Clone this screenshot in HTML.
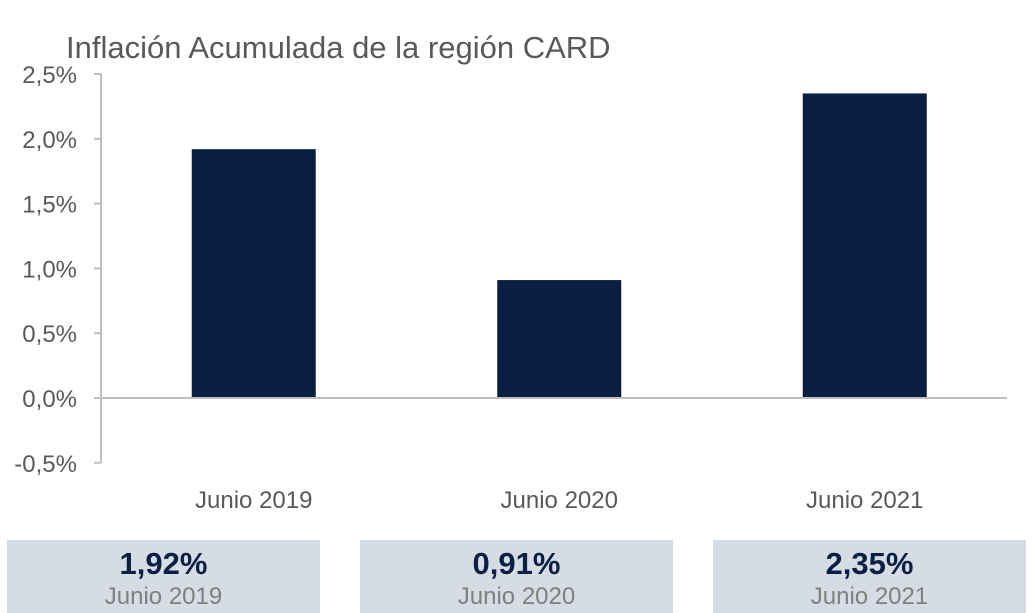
<!DOCTYPE html>
<html><head><meta charset="utf-8"><style>
body{margin:0;width:1032px;height:613px;background:#fff;overflow:hidden;font-family:"Liberation Sans",sans-serif;position:relative}
.box{position:absolute;top:540px;height:73px;width:313px;background:#d6dce4;text-align:center;overflow:hidden}
.v{font-weight:bold;font-size:31px;color:#0a1f44;margin-top:6px;line-height:36px}
.l{font-size:24px;color:#7f7f7f;line-height:30px}
</style></head><body>
<svg width="1032" height="540" style="position:absolute;left:0;top:0">
<text x="66" y="58" font-size="31" fill="#595959" font-family="Liberation Sans, sans-serif">Inflación Acumulada de la región CARD</text>
<g id="g"></g>
</svg>
<div class="box" style="left:7px"><div class="v">1,92%</div><div class="l">Junio 2019</div></div>
<div class="box" style="left:360px"><div class="v">0,91%</div><div class="l">Junio 2020</div></div>
<div class="box" style="left:713px"><div class="v">2,35%</div><div class="l">Junio 2021</div></div>
<script>
const categories=["Junio 2019","Junio 2020","Junio 2021"];
const values=[1.92,0.91,2.35];
const ticks=[-0.5,0,0.5,1,1.5,2,2.5];
const tickLabels=["-0,5%","0,0%","0,5%","1,0%","1,5%","2,0%","2,5%"];
const NS="http://www.w3.org/2000/svg",g=document.getElementById('g');
const y=v=>398-v*129.6;
const x0=101,bandW=305.5;
const xc=i=>x0+bandW*(i+0.5);
function mk(t,a){const e=document.createElementNS(NS,t);for(const k in a)e.setAttribute(k,a[k]);g.appendChild(e);return e;}
const ax=mk('line',{x1:x0,y1:y(2.5),x2:x0,y2:y(-0.5),stroke:'#bfbfbf','stroke-width':2});


ticks.forEach((t,i)=>{
const tk=mk('line',{x1:94,x2:x0,y1:y(t),y2:y(t),stroke:'#bfbfbf','stroke-width':2});


const tx=mk('text',{x:77,y:y(t)+9,'text-anchor':'end','font-size':24,fill:'#595959','font-family':'Liberation Sans, sans-serif'});
tx.textContent=tickLabels[i];


});
values.forEach((v,i)=>{
const r=mk('rect',{x:xc(i)-62,width:124,y:Math.min(y(v),y(0)),height:Math.abs(y(v)-y(0)),fill:'#081f42'});


const tx=mk('text',{x:xc(i),y:508,'text-anchor':'middle','font-size':24,fill:'#595959','font-family':'Liberation Sans, sans-serif'});
tx.textContent=categories[i];


});
const zl=mk('line',{x1:x0,x2:1007,y1:y(0),y2:y(0),stroke:'#bfbfbf','stroke-width':2});


</script>
</body></html>
